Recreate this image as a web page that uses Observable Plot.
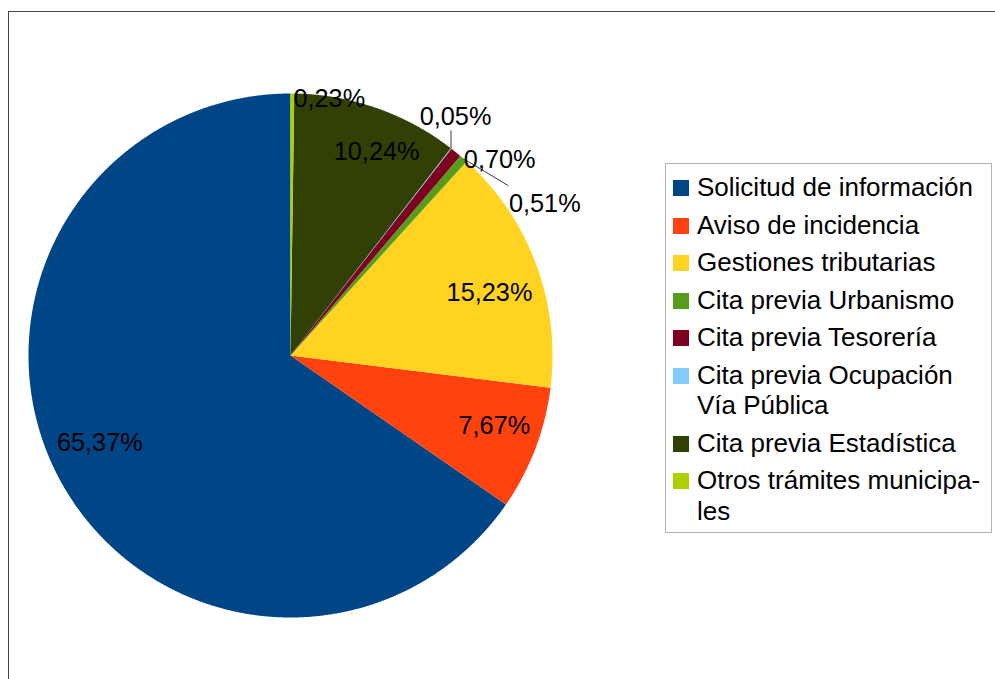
<!DOCTYPE html>
<html><head><meta charset="utf-8">
<script src="https://cdn.jsdelivr.net/npm/d3@7"></script>
<script src="https://cdn.jsdelivr.net/npm/@observablehq/plot@0.6"></script>
<style>
html,body{margin:0;padding:0;background:#fff;}
body{width:995px;height:679px;position:relative;overflow:hidden;font-family:"Liberation Sans",Arial,sans-serif;}
#frame{position:absolute;left:8px;top:11px;width:1100px;height:800px;border:1px solid #444;box-sizing:border-box;}
#chart{position:absolute;left:0;top:0;}
#legend{position:absolute;left:665px;top:163px;width:327px;height:370px;border:1px solid #b3b3b3;box-sizing:border-box;padding:8px 0 0 7px;background:#fff;}
.item{display:flex;align-items:flex-start;margin-bottom:7px;font-size:26px;line-height:30.5px;color:#000;}
.sw{width:16px;height:16px;flex:none;margin-top:8px;margin-right:8px;}
.lab{width:292px;}
</style></head><body>
<div id="frame"></div>
<div id="chart"></div>
<div id="legend"></div>
<script>
// ---- data ----
const categories = ["Solicitud de información","Aviso de incidencia","Gestiones tributarias","Cita previa Urbanismo","Cita previa Tesorería","Cita previa Ocupación Vía Pública","Cita previa Estadística","Otros trámites municipales"];
const legendLabels = ["Solicitud de información","Aviso de incidencia","Gestiones tributarias","Cita previa Urbanismo","Cita previa Tesorería","Cita previa Ocupación Vía Pública","Cita previa Estadística","Otros trámites municipa\u00ADles"];
const shares = [65.37, 7.67, 15.23, 0.51, 0.70, 0.05, 10.24, 0.23];
const colors = ["#004586","#ff420e","#ffd320","#579d1c","#7e0021","#83caff","#314004","#aecf00"];

// ---- layout helpers (label placement style) ----
const R = 262; // px per unit radius
// mode: "in" label inside at 0.8R, "out" outside near edge; offsets in px; leader: px offset of leader end
const labelStyle = [
  {mode:"in", dx:-5, dy:-10},
  {mode:"in", dx:8, dy:-4},
  {mode:"in", dx:2.5, dy:10},
  {mode:"out", dx:45.5, dy:45.5, anchor:"start", leader:[45,27]},
  {mode:"out", dx:8, dy:7.5, anchor:"start"},
  {mode:"out", dx:4.5, dy:-32, anchor:"middle", leader:[0,-18]},
  {mode:"in", dx:17, dy:-6},
  {mode:"out", dx:1, dy:5, anchor:"start"}
];

const fmt = v => d3.format(".2f")(v).replace(".", ",") + "%";
const arcs = d3.pie().sort(null).startAngle(0).endAngle(-2*Math.PI)(shares);

// slice polygons
const pts = [];
arcs.forEach((a, i) => {
  const name = categories[i];
  pts.push({name, x:0, y:0});
  const span = a.endAngle - a.startAngle;
  const n = Math.max(2, Math.ceil(Math.abs(span) / (0.2*Math.PI/180)));
  for (let k = 0; k <= n; k++) {
    const t = a.startAngle + span * k / n;
    pts.push({name, x: Math.sin(t), y: Math.cos(t)});
  }
});

const labels = arcs.map((a, i) => {
  const m = (a.startAngle + a.endAngle) / 2;
  const s = labelStyle[i];
  const r = s.mode === "in" ? 0.8 : 1.0;
  return {text: fmt(shares[i]), x: r*Math.sin(m), y: r*Math.cos(m), dx: s.dx, dy: s.dy, anchor: s.anchor || "middle", leader: s.leader};
});
const leaders = labels.filter(d => d.leader).map(d => ({x1:d.x, y1:d.y, x2:d.x + d.leader[0]/R, y2:d.y - d.leader[1]/R}));

const textMarks = ["start","middle"].map(anc => Plot.text(labels.filter(d => d.anchor === anc), {
  x:"x", y:"y", text:"text", textAnchor: anc,
  dx: d => 0, fill:"#000", fontSize:25.3, fontFamily:"Liberation Sans"
}));

const plot = Plot.plot({
  width: 995, height: 679,
  marginLeft: 28, marginRight: 995-552, marginTop: 93, marginBottom: 679-617,
  x: {domain:[-1,1], axis:null},
  y: {domain:[-1,1], axis:null},
  color: {domain: categories, range: colors},
  style: {background:"transparent", fontFamily:"Liberation Sans"},
  marks: [
    Plot.line(pts, {x:"x", y:"y", z:"name", fill:"name", stroke:"none", curve:"linear-closed"}),
    Plot.link(leaders, {x1:"x1", y1:"y1", x2:"x2", y2:"y2", stroke:"#3a3a3a", strokeWidth:1}),
    ...labels.map(d => Plot.text([d], {x:"x", y:"y", text:"text", textAnchor:d.anchor, dx:d.dx, dy:d.dy, fill:"#000", fontSize:25.3, fontFamily:"Liberation Sans"}))
  ]
});
document.getElementById("chart").appendChild(plot);

// legend
const lg = document.getElementById("legend");
categories.forEach((c, i) => {
  const it = document.createElement("div"); it.className = "item";
  const sw = document.createElement("div"); sw.className = "sw"; sw.style.background = colors[i];
  const lb = document.createElement("div"); lb.className = "lab"; lb.textContent = legendLabels[i];
  it.appendChild(sw); it.appendChild(lb); lg.appendChild(it);
});
</script>
</body></html>
